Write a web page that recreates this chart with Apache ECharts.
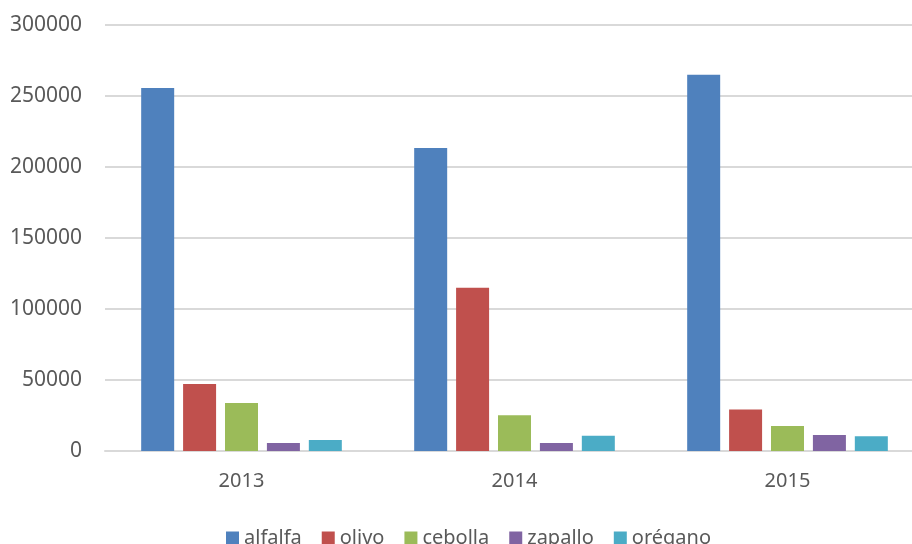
<!DOCTYPE html>
<html>
<head>
<meta charset="utf-8">
<script src="https://cdn.jsdelivr.net/npm/echarts@6/dist/echarts.min.js"></script>
<style>
  html, body { margin: 0; padding: 0; background: #fff; overflow: hidden; }
  /* el grafico original esta recortado por la derecha */
  #chart { width: 930px; height: 544px; }
</style>
</head>
<body>
<div id="chart"></div>
<script>
// datos
var years = ['2013', '2014', '2015'];
var alfalfa = [255600, 213300, 265000];
var olivo = [47200, 115000, 29300];
var cebolla = [33800, 25200, 17600];
var zapallo = [5600, 5600, 11200];
var oregano = [7700, 10700, 10300];

var names = ['alfalfa', 'olivo', 'cebolla', 'zapallo', 'orégano'];
var colors = ['#4F81BD', '#C0504D', '#9BBB59', '#8064A2', '#4BACC6'];
var values = [alfalfa, olivo, cebolla, zapallo, oregano];

var txt = '#595959';
var font = '"Noto Sans", "Open Sans", sans-serif';

var chart = echarts.init(document.getElementById('chart'));

var series = names.map(function (n, i) {
    return {
        name: n,
        type: 'bar',
        data: values[i],
        barWidth: 33,
        barGap: '27%',
        itemStyle: { color: colors[i] },
        animation: false
    };
});

chart.setOption({
    color: colors,
    textStyle: { fontFamily: font },
    grid: { left: 105, top: 25, right: 6, height: 426 },
    legend: {
        data: names,
        left: 221,
        top: 523,
        itemWidth: 13,
        itemHeight: 13,
        itemGap: 20,
        icon: 'rect',
        textStyle: { color: txt, fontSize: 20, fontFamily: font }
    },
    xAxis: {
        type: 'category',
        data: years,
        axisTick: { show: false },
        axisLine: { lineStyle: { color: '#d9d9d9', width: 2 } },
        axisLabel: { color: txt, fontSize: 20, margin: 20 }
    },
    yAxis: {
        type: 'value',
        min: 0,
        max: 300000,
        interval: 50000,
        axisLine: { show: false },
        axisTick: { show: false },
        axisLabel: {
            color: txt,
            fontSize: 21,
            margin: 23,
            formatter: function (v) { return String(v); }
        },
        splitLine: { lineStyle: { color: '#d9d9d9', width: 2 } }
    },
    series: series
});
</script>
</body>
</html>
